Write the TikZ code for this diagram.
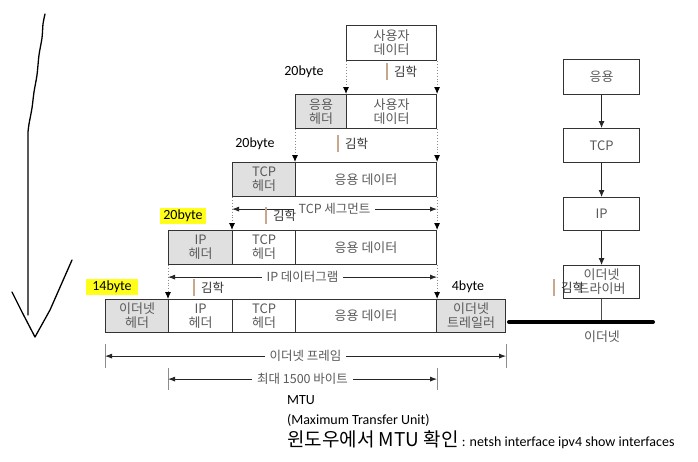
\documentclass[tikz,border=0pt]{standalone}
\usepackage{fontspec}
\setmainfont{Carlito}
\newfontfamily\kor{Noto Sans CJK KR}
\usetikzlibrary{arrows.meta,calc}
\definecolor{boxgray}{HTML}{E0E0E0}
\definecolor{textgray}{HTML}{5A5A5A}
\definecolor{markbar}{HTML}{C8A88C}
\definecolor{hilite}{HTML}{FFFF1A}

\begin{document}
\begin{tikzpicture}
[x=1pt,y=-1pt,
  boxDecorate/.style={draw=black!80,line width=1.1pt,anchor=north west,inner sep=0pt,
    align=center,text=textgray,font=\kor\fontsize{13}{14}\selectfont},
  headDecorate/.style={boxDecorate,fill=boxgray},
  dotArrow/.style={draw=black!45,dotted,line width=0.9pt,-{Latex[length=7pt,width=6pt,color=black]}},
  dimArrow/.style={draw=black!85,line width=0.8pt,{Latex[length=7pt,width=5pt]}-{Latex[length=7pt,width=5pt]}},
  dimLabel/.style={fill=white,inner xsep=5pt,inner ysep=1pt,text=textgray,font=\kor\fontsize{12.5}{14}\selectfont},
  tickLine/.style={draw=black!45,line width=0.8pt},
  stackArrow/.style={draw=black!85,line width=0.8pt,-{Latex[length=7pt,width=6pt]}},
  byteLabel/.style={inner xsep=3pt,inner ysep=2.5pt,font=\fontsize{14}{16}\selectfont},
  markBar/.style={draw=markbar,line width=2.6pt},
  markText/.style={anchor=west,inner sep=0pt,text=black!80,font=\kor\fontsize{12.5}{14}\selectfont},
  handLine/.style={draw=black,line width=1.3pt,line cap=round,line join=round}]
\useasboundingbox[fill=white] (0,0) rectangle (698,461);
%% boxes of the layers
\foreach \boxname/\x/\y/\w/\h/\txt in {
  ud1/346/25/90/35/사용자\\데이터, ud2/346/94/90/34/사용자\\데이터,
  ad3/295/162/141/34/응용 데이터, th4/232/230/63/34/TCP\\헤더,
  ad4/295/230/141/34/응용 데이터, ih5/168/299/64/33/IP\\헤더,
  th5/232/299/63/33/TCP\\헤더, ad5/295/299/141/33/응용 데이터,
  app/563/59/76/35/응용, tcp/563/128/76/34/TCP,
  ip/563/197/76/33/IP, drv/563/265/76/33/이더넷\\드라이버}
{
  \node (\boxname) at (\x,\y) [boxDecorate,minimum width=\w pt,minimum height=\h pt] {\txt};
}
\foreach \boxname/\x/\y/\w/\h/\txt in {
  ah2/295/94/51/34/응용\\헤더, th3/232/162/63/34/TCP\\헤더,
  ih4/168/230/64/34/IP\\헤더, eh5/105/299/63/33/이더넷\\헤더,
  et5/436/299/69/33/이더넷\\트레일러}
{
  \node (\boxname) at (\x,\y) [headDecorate,minimum width=\w pt,minimum height=\h pt] {\txt};
}
%% dotted arrows between rows
\foreach \startnode/\endnode in {
  ud1.south west/ud2.north west, ud1.south east/ud2.north east,
  ah2.south west/ad3.north west, ud2.south east/ad3.north east,
  th3.south west/th4.north west, ad3.south east/ad4.north east,
  ih4.south west/ih5.north west, ad4.south east/ad5.north east}
{
  \draw[dotArrow] (\startnode) -- (\endnode);
}
%% spans
\draw[dimArrow] ($(th3.south west)+(0,12)$) -- node[dimLabel] {TCP 세그먼트} ($(ad3.south east)+(0,12)$);
\draw[dimArrow] ($(ih4.south west)+(0,12)$) -- node[dimLabel] {IP 데이터그램} ($(ad4.south east)+(0,12)$);
\draw[tickLine] ($(eh5.south west)+(0,11)$) -- ++(0,24);
\draw[tickLine] ($(et5.south east)+(0,11)$) -- ++(0,24);
\draw[tickLine] ($(ih5.south west)+(0,35)$) -- ++(0,22);
\draw[tickLine] ($(ad5.south east)+(0,35)$) -- ++(0,22);
\draw[dimArrow] ($(eh5.south west)+(0,23)$) -- node[dimLabel] {이더넷 프레임} ($(et5.south east)+(0,23)$);
\draw[dimArrow] ($(ih5.south west)+(0,46)$) -- node[dimLabel] {최대 1500 바이트} ($(ad5.south east)+(0,46)$);
%% protocol stack
\foreach \startnode/\endnode in {app/tcp, tcp/ip, ip/drv}
{
  \draw[stackArrow] (\startnode) -- (\endnode);
}
\coordinate (ethL) at (509,322);
\coordinate (ethR) at (653,322);
\draw[black!70,line width=0.8pt] (drv.south) -- (drv.south |- ethL);
\draw[line width=4pt,line cap=round] (ethL) -- (ethR);
\node[text=textgray,font=\kor\fontsize{13}{14}\selectfont] (ethname) at (602,337) {이더넷};
%% byte sizes
\node[byteLabel] (size1) at (304,72) {20byte};
\node[byteLabel] (size2) at (255,144) {20byte};
\node[byteLabel,fill=hilite] (size3) at (183,216) {20byte};
\node[byteLabel,fill=hilite,inner xsep=6pt] (size4) at (112,287) {14byte};
\node[byteLabel] (size5) at (468,287) {4byte};
%% marks
\foreach \markname/\x/\y in {1/387/71.5, 2/338/143.5, 3/266/215.5, 4/194/287.5, 5/554/287.5}
{
  \draw[markBar] (\x,\y-8.5) -- (\x,\y+8.5);
  \node[markText] (mark\markname) at (\x+7,\y) {김학};
}
%% hand drawn arrow
\draw[handLine] plot[smooth] coordinates {(45,14) (43,24) (42,38) (39,55) (37,75) (34,92) (32,108) (29,124) (28,132)} -- (28,315);
\draw[handLine] (12,292) -- (22,312) -- (35,337) -- (50,310) -- (72,260);
%% notes
\node[anchor=west,inner sep=0pt,font=\fontsize{14}{16}\selectfont] (mtu) at (287,400) {MTU};
\node[anchor=west,inner sep=0pt,font=\fontsize{14}{16}\selectfont] (mtufull) at (287,420) {(Maximum Transfer Unit)};
\node[anchor=base west,inner sep=0pt,font=\fontsize{14}{16}\selectfont] (howto) at (287,446)
  {{\kor\fontsize{19}{22}\selectfont 윈도우에서 MTU 확인} : netsh interface ipv4 show interfaces};
\end{tikzpicture}
\end{document}
